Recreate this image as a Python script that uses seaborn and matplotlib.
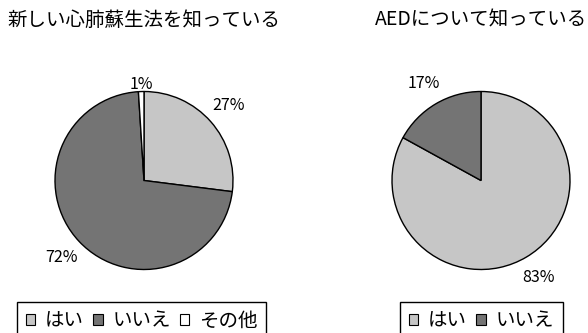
import numpy as np
import matplotlib
matplotlib.use("Agg")
import matplotlib.pyplot as plt
import seaborn as sns
from matplotlib.patches import Patch

sns.set_theme(style="white")
plt.rcParams['font.family'] = ['Noto Sans CJK JP', 'DejaVu Sans']

# ---- data ----
left_title = "新しい心肺蘇生法を知っている"
left_labels = ["はい", "いいえ", "その他"]
left_values = [27, 72, 1]

right_title = "AEDについて知っている"
right_labels = ["はい", "いいえ"]
right_values = [83, 17]

colors = {"はい": "#c6c6c6", "いいえ": "#747474", "その他": "#ffffff"}

W, H = 588, 333
fig = plt.figure(figsize=(W / 100, H / 100), dpi=100)


def draw(cx, cy, r, values, labels, title, leg_x, leg_y):
    ax = fig.add_axes([(cx - r) / W, 1 - (cy + r) / H, 2 * r / W, 2 * r / H])
    wedges, _ = ax.pie(values, colors=[colors[l] for l in labels],
                       startangle=90, counterclock=False,
                       wedgeprops=dict(edgecolor="black", linewidth=1.0))
    ax.set_xlim(-1, 1)
    ax.set_ylim(-1, 1)
    ax.set_aspect("equal")
    ax.axis("off")
    for w, v in zip(wedges, values):
        ang = np.deg2rad((w.theta1 + w.theta2) / 2)
        d = 1.08 if v < 3 else 1.27
        ax.text(d * np.cos(ang), d * np.sin(ang), f"{v}%", ha="center", va="center",
                fontsize=11.5, color="black", clip_on=False)
    fig.text(cx / W, 1 - 20 / H, title, ha="center", va="center", fontsize=14, color="black")
    handles = [Patch(facecolor=colors[l], edgecolor="black", linewidth=0.8) for l in labels]
    leg = fig.legend(handles, labels, loc="upper left", bbox_to_anchor=(leg_x / W, 1 - leg_y / H),
                     ncol=len(labels), fontsize=14, frameon=True, fancybox=False,
                     edgecolor="black", framealpha=1, handlelength=0.5, handleheight=0.5,
                     handletextpad=0.5, columnspacing=0.45, borderpad=0.45, borderaxespad=0)
    leg.get_frame().set_linewidth(1.0)
    for t in leg.get_texts():
        t.set_color("black")


draw(144, 180.5, 89, left_values, left_labels, left_title, 17, 302)
draw(481, 180.5, 89, right_values, right_labels, right_title, 400, 302)

fig.savefig("out.png", dpi=100, facecolor="white")
